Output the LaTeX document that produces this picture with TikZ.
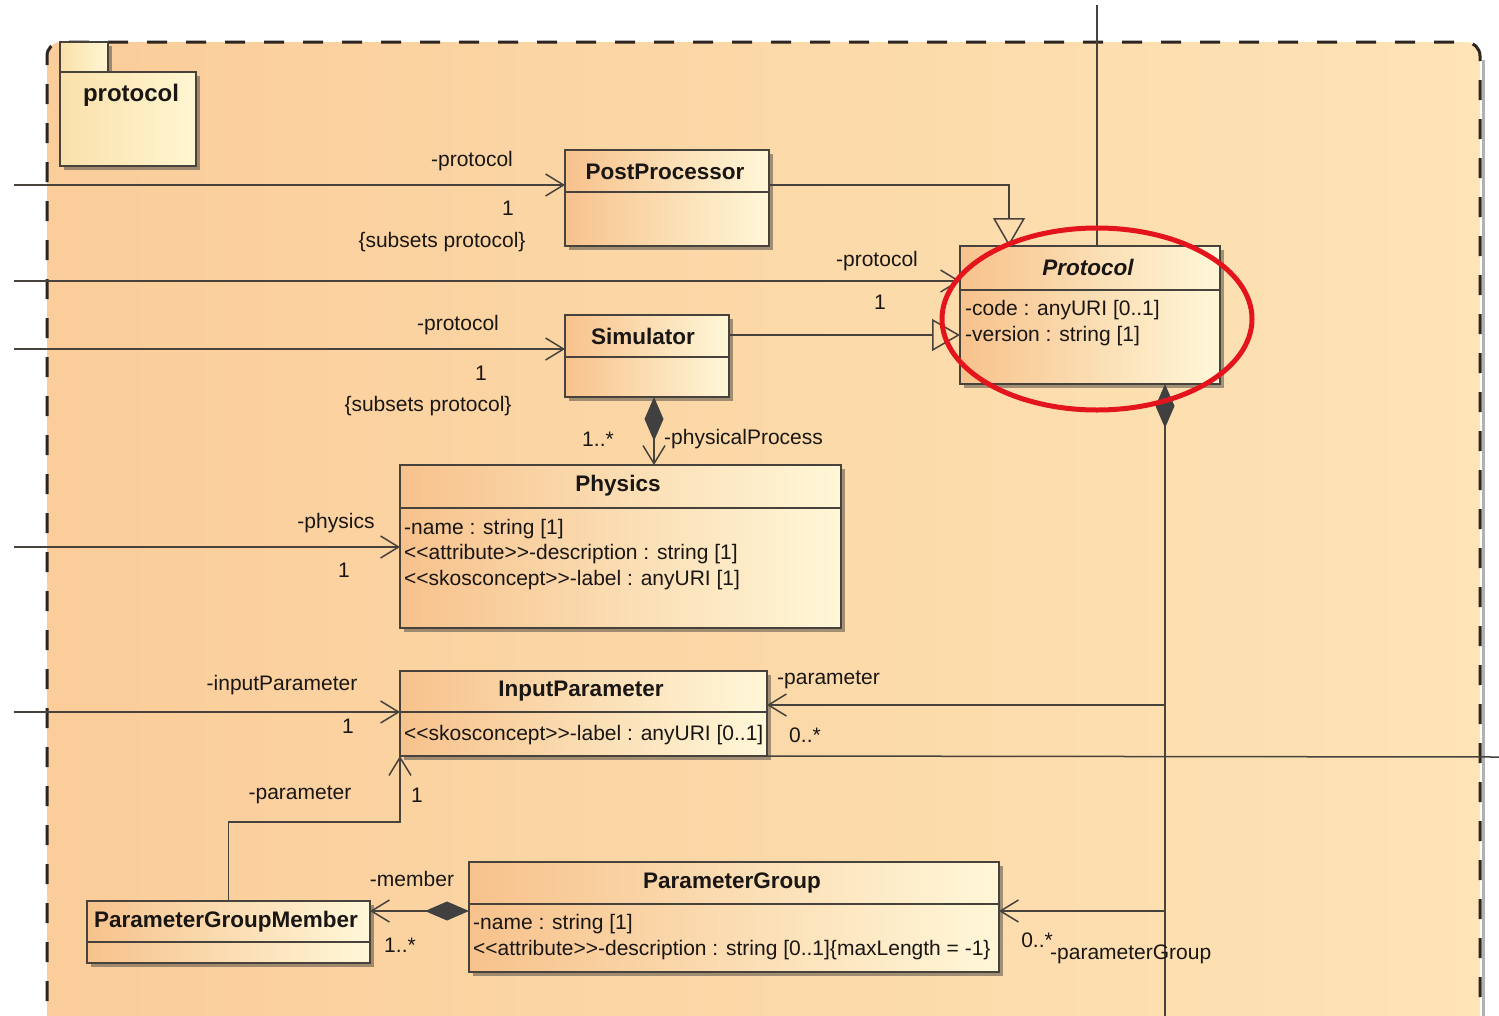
\documentclass[tikz,border=0pt]{standalone}
\usepackage{fontspec}
\newfontfamily\umlf{Liberation Sans}
\usetikzlibrary{arrows.meta,shadows,calc}
\definecolor{lineC}{RGB}{72,66,60}
\definecolor{boxL}{RGB}{247,194,140}
\definecolor{boxR}{RGB}{255,247,216}
\definecolor{pkgL}{RGB}{250,205,154}
\definecolor{pkgR}{RGB}{254,228,182}
\definecolor{tabL}{RGB}{250,224,170}
\definecolor{tabR}{RGB}{255,246,210}
\definecolor{frameC}{RGB}{45,38,32}
\definecolor{ellC}{RGB}{228,20,28}
\definecolor{txtC}{RGB}{25,22,20}
\newcommand\fbody{\umlf\fontsize{21}{25}\selectfont}
\newcommand\ftitle{\umlf\bfseries\fontsize{22.5}{26}\selectfont}
\begin{document}
\begin{tikzpicture}[x=1pt,y=-1pt,
  cls/.style={draw=lineC, line width=1.6pt, left color=boxL, right color=boxR, anchor=north west, inner sep=0pt, outer sep=0pt,
    drop shadow={shadow xshift=4pt, shadow yshift=-4pt, opacity=0.45, fill=black!80}},
  pkgbox/.style={cls, left color=tabL, right color=tabR},
  sep/.style={draw=lineC, line width=1.6pt},
  ttl/.style={font=\ftitle, text=txtC, inner sep=0pt, yshift=-2pt},
  att/.style={font=\fbody, anchor=west, inner sep=0pt, text=txtC, yshift=-2pt},
  lbl/.style={font=\fbody, inner sep=0pt, text=txtC, yshift=-2pt},
  ln/.style={draw=lineC, line width=1.5pt},
  assoc/.style={ln, -{Straight Barb[length=18pt,width=22pt]}},
  gen/.style={ln, -{Triangle[open,length=28pt,width=32pt]}},
  comp/.style={ln, {Diamond[length=44pt,width=19pt,color=black!75,fill=black!75]}-{Straight Barb[length=18pt,width=22pt]}},
  compd/.style={ln, {Diamond[length=44pt,width=19pt,color=black!75,fill=black!75]}-},
]
\useasboundingbox (0,0) rectangle (1499,1015);
\clip (0,0) rectangle (1499,1015);
\fill[white] (0,0) rectangle (1499,1015);

% package frame
\shade[left color=pkgL, right color=pkgR, rounded corners=14pt] (47,1040) -- (47,42) -- (1480,42) -- (1480,1040) -- cycle;
\draw[black!30, line width=3pt] (1483,60) -- (1483,1040);
\draw[frameC, line width=3pt, dash pattern=on 20pt off 19pt, rounded corners=14pt] (47,1040) -- (47,42) -- (1480,42) -- (1480,1040);

% package tab
\node[pkgbox, minimum width=48pt, minimum height=30pt] (tab) at (60,42) {};
\node[pkgbox, minimum width=136pt, minimum height=94pt] (pkg) at (60,72) {};
\node[font=\umlf\bfseries\fontsize{24}{28}\selectfont, text=txtC, inner sep=0pt, yshift=-2pt] (pkgname) at (131,93) {protocol};

% classes
\node[cls, minimum width=204pt, minimum height=96pt] (pp) at (565,150) {};
\draw[sep] (565,192) -- (769,192);
\node[ttl] (ppt) at (665,170) {PostProcessor};

\node[cls, minimum width=260pt, minimum height=138pt] (proto) at (960,246) {};
\draw[sep] (960,290) -- (1220,290);
\node[ttl, font=\ftitle\itshape] (protot) at (1088,265) {Protocol};
\node[att] (pa1) at (965,308) {-code : anyURI [0..1]};
\node[att] (pa2) at (965,334) {-version : string [1]};

\node[cls, minimum width=164pt, minimum height=82pt] (sim) at (565,315) {};
\draw[sep] (565,357) -- (729,357);
\node[ttl] (simt) at (643,334) {Simulator};

\node[cls, minimum width=441pt, minimum height=163pt] (phys) at (400,465) {};
\draw[sep] (400,508) -- (841,508);
\node[ttl] (physt) at (618,484) {Physics};
\node[att] (ph1) at (404,527) {-name : string [1]};
\node[att] (ph2) at (404,552) {<<attribute>>-description : string [1]};
\node[att] (ph3) at (404,578) {<<skosconcept>>-label : anyURI [1]};

\node[cls, minimum width=367pt, minimum height=85pt] (inp) at (400,671) {};
\draw[sep] (400,712) -- (767,712);
\node[ttl] (inpt) at (581,689) {InputParameter};
\node[att] (ip1) at (404,733) {<<skosconcept>>-label : anyURI [0..1]};

\node[cls, minimum width=530pt, minimum height=110pt] (pg) at (469,862) {};
\draw[sep] (469,904) -- (999,904);
\node[ttl] (pgt) at (732,881) {ParameterGroup};
\node[att] (pg1) at (473,922) {-name : string [1]};
\node[att] (pg2) at (473,948) {<<attribute>>-description : string [0..1]\{maxLength = -1\}};

\node[cls, minimum width=283pt, minimum height=62pt] (pgm) at (87,901) {};
\draw[sep] (87,942) -- (370,942);
\node[ttl] (pgmt) at (226,920) {ParameterGroupMember};

% free ends / bend points
\coordinate (L1) at (14,185);
\coordinate (L2) at (14,281);
\coordinate (L3) at (14,349);
\coordinate (L4) at (14,547);
\coordinate (L5) at (14,712);
\coordinate (topend) at (1097,5);
\coordinate (g1) at ([xshift=-81pt]proto.north);
\coordinate (g2) at ([yshift=21pt]sim.east);
\coordinate (c1) at ([xshift=7pt]sim.south);
\coordinate (c2) at ([xshift=75pt]proto.south);
\coordinate (c2b) at (1165,1030);
\coordinate (j1) at (1165,705);
\coordinate (j2) at (1165,911);
\coordinate (r1) at (1499,757);
\coordinate (pgw) at ([yshift=6pt]pg.west);

% connectors
\draw[assoc] (L1) -- (L1 -| pp.west);
\draw[assoc] (L2) -- (L2 -| proto.west);
\draw[assoc] (L3) -- (L3 -| sim.west);
\draw[gen] (L1 -| pp.east) -| (g1);
\draw[gen] (g2) -- (g2 -| proto.west);
\draw[ln] (topend) -- (topend |- proto.north);
\draw[comp] (c1) -- (c1 |- phys.north);
\draw[assoc] (L4) -- (L4 -| phys.west);
\draw[assoc] (L5) -- (L5 -| inp.west);
\draw[compd] (c2) -- (c2b);
\draw[assoc] (j1) -- (j1 -| inp.east);
\draw[assoc] (j2) -- (j2 -| pg.east);
\draw[ln] (inp.south east) -- (r1);
\draw[assoc] (pgm.north) -- ++(0,-79) -| (inp.south west);
\draw[comp] (pgw) -- (pgw -| pgm.east);

% labels
\node[lbl] (l1) at (472,159) {-protocol};
\node[lbl] (l2) at (508,206) {1};
\node[lbl] (l3) at (442,240) {\{subsets protocol\}};
\node[lbl] (l4) at (877,259) {-protocol};
\node[lbl] (l5) at (880,300) {1};
\node[lbl] (l6) at (458,323) {-protocol};
\node[lbl] (l7) at (481,371) {1};
\node[lbl] (l8) at (428,404) {\{subsets protocol\}};
\node[lbl] (l9) at (598,437) {1..*};
\node[lbl, anchor=west] (l10) at (664,437) {-physicalProcess};
\node[lbl] (l11) at (336,521) {-physics};
\node[lbl] (l12) at (344,568) {1};
\node[lbl] (l13) at (282,683) {-inputParameter};
\node[lbl] (l14) at (348,724) {1};
\node[lbl, anchor=west] (l15) at (777,678) {-parameter};
\node[lbl] (l16) at (805,733) {0..*};
\node[lbl] (l17) at (300,793) {-parameter};
\node[lbl] (l18) at (417,793) {1};
\node[lbl] (l19) at (412,877) {-member};
\node[lbl] (l20) at (400,943) {1..*};
\node[lbl] (l21) at (1037,938) {0..*};
\node[lbl, anchor=west] (l22) at (1050,952) {-parameterGroup};

% red highlight
\draw[ellC, line width=5pt] (1097,319) ellipse [x radius=155pt, y radius=91pt];
\end{tikzpicture}
\end{document}
